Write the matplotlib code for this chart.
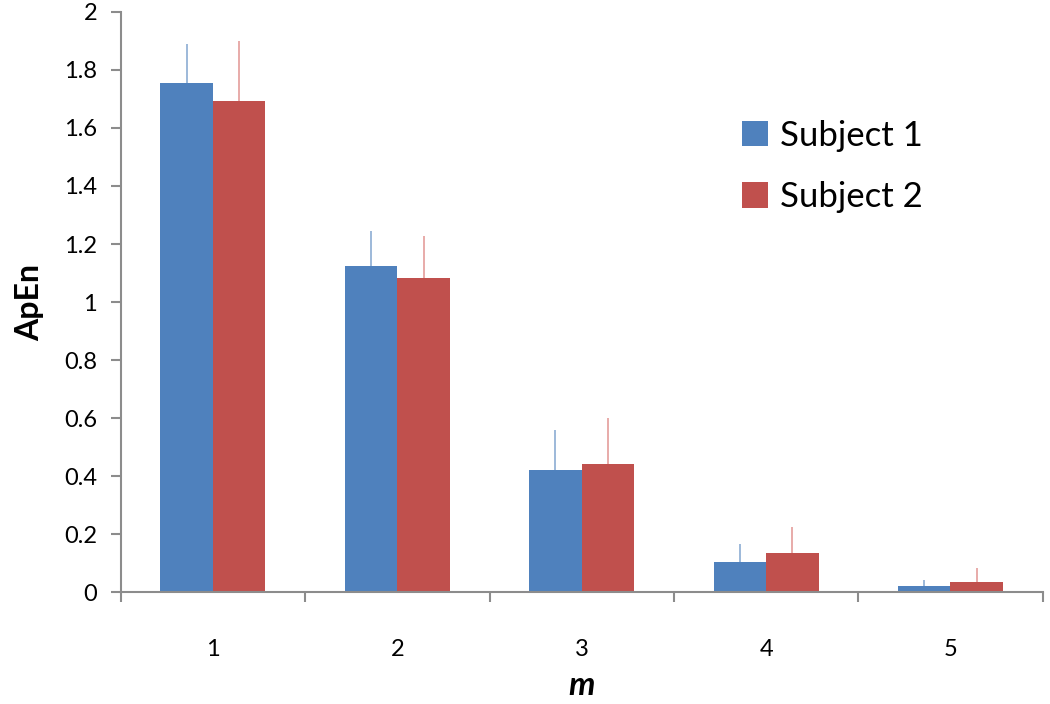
import numpy as np
from matplotlib import pyplot as plt
from matplotlib.ticker import FixedLocator, FormatStrFormatter

m_values = [1, 2, 3, 4, 5]
subject1 = [1.755, 1.124, 0.42, 0.103, 0.02]
subject1_err = [0.135, 0.12, 0.14, 0.063, 0.021]
subject2 = [1.693, 1.083, 0.44, 0.134, 0.034]
subject2_err = [0.207, 0.145, 0.16, 0.09, 0.049]
labels = ["Subject 1", "Subject 2"]

plt.rcParams['font.family'] = ['Lato', 'DejaVu Sans']

fig = plt.figure(figsize=(10.5, 7.04), dpi=100)
ax = fig.add_axes([0.115, 0.159, 0.878, 0.824])

x = np.arange(len(m_values)) + 1
w = 0.285
gray = '#8c8c8c'

ax.bar(x - w / 2, subject1, w, color='#4F81BD', label=labels[0], zorder=2)
ax.bar(x + w / 2, subject2, w, color='#C0504D', label=labels[1], zorder=2)
ax.errorbar(x - w / 2, subject1, yerr=[np.zeros(5), subject1_err], fmt='none',
            ecolor='#95B3D7', elinewidth=1.3, capsize=0, zorder=1)
ax.errorbar(x + w / 2, subject2, yerr=[np.zeros(5), subject2_err], fmt='none',
            ecolor='#E6A5A3', elinewidth=1.3, capsize=0, zorder=1)

ax.set_xlim(0.5, 5.5)
ax.set_ylim(0, 2)
ax.set_yticks(np.arange(0, 2.01, 0.2))
ax.yaxis.set_major_formatter(FormatStrFormatter('%g'))
ax.set_xticks(x)
ax.set_xticklabels([str(v) for v in m_values])
ax.xaxis.set_minor_locator(FixedLocator(np.arange(0.5, 5.6, 1)))
ax.tick_params(axis='x', which='major', length=0, pad=34, labelsize=17)
ax.tick_params(axis='x', which='minor', length=7, width=1.5, color=gray)
ax.tick_params(axis='y', length=7, width=1.5, color=gray, labelsize=17, pad=10)

for side in ['top', 'right']:
    ax.spines[side].set_visible(False)
for side in ['left', 'bottom']:
    ax.spines[side].set_color(gray)
    ax.spines[side].set_linewidth(1.5)

ax.set_ylabel('ApEn', fontsize=23, fontweight='bold', labelpad=14)
ax.set_xlabel('m', fontsize=24, fontweight='bold', style='italic', labelpad=8)

ax.legend(loc='upper left', bbox_to_anchor=(0.64, 0.868), frameon=False,
          fontsize=25, handlelength=0.75, handleheight=0.75, labelspacing=0.85,
          handletextpad=0.35)

fig.savefig('out.png', dpi=100)
